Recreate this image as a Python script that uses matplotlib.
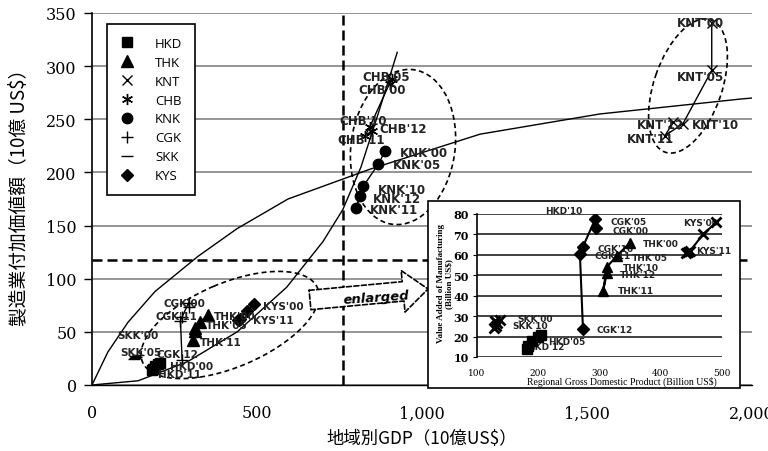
import matplotlib.pyplot as plt
from matplotlib.patches import Ellipse, Rectangle, FancyArrowPatch, ArrowStyle
from matplotlib.transforms import Affine2D
from matplotlib.ticker import FuncFormatter

plt.rcParams['font.family'] = ['DejaVu Sans']

# data: regional GDP vs manufacturing value added (billion US$)
years = ["'00", "'05", "'10", "'11", "'12"]
regions = ['HKD', 'THK', 'KNT', 'CHB', 'KNK', 'CGK', 'SKK', 'KYS']

hkd_gdp = [205, 200, 190, 181, 184]
hkd_mfg = [21, 20, 18, 14, 15.5]
thk_gdp = [350, 328, 312, 306, 312]
thk_mfg = [66, 59.5, 54, 42.5, 51]
knt_gdp = [1878, 1878, 1791, 1736, 1761]
knt_mfg = [341, 296, 246, 234.5, 247]
chb_gdp = [903, 908, 842, 827, 847]
chb_mfg = [283, 288, 243, 234, 239]
knk_gdp = [888, 868, 822, 800, 812]
knk_mfg = [220, 208, 187, 167, 178]
cgk_gdp = [295, 293, 273, 268, 273]
cgk_mfg = [73, 77.5, 64, 60.5, 23.7]
skk_gdp = [138, 130, 128, 131, 133]
skk_mfg = [28, 27.5, 24, 25, 26.5]
kys_gdp = [491, 469, 448, 442, 445]
kys_mfg = [76, 70, 62, 61, 61.5]

# trend curves
upper_gdp = [0, 48, 109, 191, 321, 439, 594, 842, 1176, 1539, 1964, 2000]
upper_mfg = [0, 31, 59, 88, 121, 147, 175, 203, 236, 255, 269, 270]
lower_gdp = [0, 140, 290, 440, 590, 700, 760, 815, 870, 925]
lower_mfg = [0, 4, 22, 50, 92, 135, 165, 205, 258, 313]

gdp_threshold = 760
mfg_threshold = 118

series = {
    'HKD': (hkd_gdp, hkd_mfg), 'THK': (thk_gdp, thk_mfg),
    'KNT': (knt_gdp, knt_mfg), 'CHB': (chb_gdp, chb_mfg),
    'KNK': (knk_gdp, knk_mfg), 'CGK': (cgk_gdp, cgk_mfg),
    'SKK': (skk_gdp, skk_mfg), 'KYS': (kys_gdp, kys_mfg),
}

main_marker = {'HKD': ('s', 7), 'THK': ('^', 8), 'KNT': ('x', 7),
               'CHB': ((6, 2, 0), 8), 'KNK': ('o', 7.5), 'CGK': ('+', 8),
               'SKK': ('_', 8), 'KYS': ('D', 6)}
inset_marker = {'HKD': ('s', 7), 'THK': ('^', 7.5), 'CGK': ('D', 6),
                'SKK': ('x', 7), 'KYS': ('x', 7)}

# label offsets in pixels (region, year index) -> (dx, dy)
main_labels = {
    ('KNT', 0): (-35, 0), ('KNT', 1): (-35, -6), ('KNT', 2): (9, -1),
    ('KNT', 4): (-36, -2), ('KNT', 3): (-38, -3),
    ('CHB', 1): (-29, 2), ('CHB', 0): (-32, -5), ('CHB', 2): (-30, 6),
    ('CHB', 4): (8, 2), ('CHB', 3): (-28, -3),
    ('KNK', 0): (15, -1), ('KNK', 1): (14, -1), ('KNK', 2): (15, -3),
    ('KNK', 4): (13, -3), ('KNK', 3): (14, -2),
    ('CGK', 0): (-26, 4), ('CGK', 3): (-25, 5), ('CGK', 4): (-26, 6),
    ('THK', 0): (6, -1), ('THK', 1): (6, -3), ('THK', 3): (7, -2),
    ('KYS', 0): (9, -2), ('KYS', 3): (15, 0),
    ('SKK', 0): (-20, 20), ('SKK', 1): (-15, 4),
    ('HKD', 0): (10, -3), ('HKD', 3): (6, -4),
}
small_regions = ['CGK', 'THK', 'KYS', 'SKK', 'HKD']
inset_labels = {
    ('HKD', 2): (13, 130),
    ('CGK', 1): (15, -2), ('CGK', 0): (16, -2), ('CGK', 2): (15, -2),
    ('CGK', 3): (15, -2), ('CGK', 4): (14, 0),
    ('THK', 0): (13, -1), ('THK', 1): (15, -2), ('THK', 2): (16, 0),
    ('THK', 4): (13, -1), ('THK', 3): (15, 0),
    ('KYS', 0): (-33, 0), ('KYS', 3): (10, 2),
    ('SKK', 0): (17, 2), ('SKK', 2): (18, 3),
    ('HKD', 1): (10, -5), ('HKD', 4): (-1, -1),
}

fig = plt.figure(figsize=(7.68, 4.52), dpi=100)
img = Affine2D().scale(1 / 768, -1 / 452).translate(0, 1) + fig.transFigure

ax = fig.add_axes([92 / 768, 66 / 452, 660 / 768, 372 / 452])
ax.set_xlim(0, 2000)
ax.set_ylim(0, 350)
ax.set_yticks(range(0, 351, 50))
ax.set_xticks(range(0, 2001, 500))
ax.xaxis.set_major_formatter(FuncFormatter(lambda v, p: f'{v:,.0f}'))
ax.grid(axis='y', color='#8c8c8c', lw=1.3, zorder=0)
ax.set_axisbelow(True)
for s in ['top', 'right']:
    ax.spines[s].set_visible(False)
ax.spines['left'].set_linewidth(1.2)
ax.spines['bottom'].set_linewidth(1.0)
ax.tick_params(axis='y', length=6, width=1, pad=5)
ax.tick_params(axis='x', length=0, pad=14)
for t in ax.get_xticklabels() + ax.get_yticklabels():
    t.set_family('DejaVu Serif')
    t.set_fontsize(11.5)

ax.plot(upper_gdp, upper_mfg, color='k', lw=1.0, zorder=2)
ax.plot(lower_gdp, lower_mfg, color='k', lw=1.0, zorder=2)
ax.axvline(gdp_threshold, color='k', lw=1.8, dashes=(4, 2), zorder=2)
ax.axhline(mfg_threshold, color='k', lw=1.8, dashes=(4, 2), zorder=2)

for name in regions:
    gx, gy = series[name]
    m, ms = main_marker[name]
    ax.plot(gx, gy, color='k', lw=1.0, zorder=3)
    ax.plot(gx, gy, ls='none', marker=m, ms=ms, color='k', mew=1.0,
            label=name, zorder=4)

for (name, i), (dx, dy) in main_labels.items():
    gx, gy = series[name]
    fs = 7.5 if name in small_regions else 8.5
    ax.annotate(name + years[i], (gx[i], gy[i]), xytext=(dx, dy),
                textcoords='offset pixels', ha='left', va='center',
                fontsize=fs, fontweight='bold', color='#222222', zorder=5)

ellipses = [((230, 326), 190, 84, -23), ((403, 148), 156, 104, -82),
            ((688, 87), 140, 68, -71)]
for c, w, h, a in ellipses:
    ax.add_patch(Ellipse(c, w, h, angle=a, transform=img, fill=False,
                         ec='k', lw=1.2, ls=(0, (3, 2)), zorder=3,
                         clip_on=False))

leg = ax.legend(loc='upper left', bbox_to_anchor=(0.0227, 0.97),
                borderaxespad=0, fancybox=False, edgecolor='k',
                framealpha=1, prop={'family': 'Open Sans', 'size': 9.5},
                labelspacing=0.45, handlelength=1.2, handletextpad=1.5,
                borderpad=0.95)
leg.get_frame().set_linewidth(1.2)

ax.set_xlabel('地域別GDP（10億US$）', family=['Noto Sans CJK JP', 'DejaVu Sans'],
              fontsize=12.5)
ax.xaxis.set_label_coords(0.5, -0.1425)
ax.xaxis.label.set_va('center')
ax.set_ylabel('製造業付加価値額（10億 US$）', family=['Noto Sans CJK JP', 'DejaVu Sans'],
              fontsize=13.5)
ax.yaxis.set_label_coords(-0.1106, 0.52)
ax.yaxis.label.set_va('center')

# "enlarged" arrow
arrow = FancyArrowPatch((310, 301), (428, 290), transform=img,
                        arrowstyle=ArrowStyle.Simple(head_length=0.9, head_width=1.5,
                                                     tail_width=0.7),
                        mutation_scale=20, shrinkA=0, shrinkB=0, fc='white',
                        ec='k', lw=1.2, ls=(0, (3, 1.5)), zorder=4)
fig.add_artist(arrow)
fig.text(376, 298, 'enlarged', transform=img, rotation=4, ha='center',
         va='center', fontsize=9.5, fontweight='bold', style='italic', zorder=4.5)

# inset
frame = Rectangle((428, 202), 312, 187, transform=img, fc='white', ec='k',
                  lw=1.2, zorder=4)
fig.add_artist(frame)
ins = fig.add_axes([477 / 768, 94 / 452, 245 / 768, 143 / 452])
ins.set_zorder(5)
ins.set_xlim(100, 500)
ins.set_ylim(10, 80)
ins.set_xticks(range(100, 501, 100))
ins.set_yticks(range(10, 81, 10))
ins.grid(axis='y', color='#222222', lw=1.2)
ins.set_axisbelow(True)
for s in ['top', 'right', 'bottom']:
    ins.spines[s].set_visible(False)
ins.spines['left'].set_linewidth(1.2)
ins.tick_params(axis='y', length=3, pad=3)
ins.tick_params(axis='x', length=0, pad=8)
for t in ins.get_yticklabels():
    t.set_family('DejaVu Serif')
    t.set_fontsize(8)
    t.set_fontweight('bold')
for t in ins.get_xticklabels():
    t.set_family('DejaVu Serif')
    t.set_fontsize(6.5)

for name in small_regions:
    gx, gy = series[name]
    m, ms = inset_marker[name]
    ins.plot(gx, gy, color='k', lw=1.5, zorder=3)
    ins.plot(gx, gy, ls='none', marker=m, ms=ms, color='k', mew=2 if m == 'x' else 1,
             zorder=4)

for (name, i), (dx, dy) in inset_labels.items():
    gx, gy = series[name]
    ins.annotate(name + years[i], (gx[i], gy[i]), xytext=(dx, dy),
                 textcoords='offset pixels', ha='left', va='center',
                 fontsize=6.5, fontweight='bold', color='#222222', zorder=2,
                 annotation_clip=False)

ins.set_xlabel('Regional Gross Domestic Product (Billion US$)',
               family='Liberation Serif', fontsize=7)
ins.xaxis.set_label_coords(0.592, -0.168)
ins.xaxis.label.set_va('center')
ins.set_ylabel('Value Added of Manufacturing\n(Billion US$)',
               family='Liberation Serif', fontsize=6.5, fontweight='bold',
               linespacing=1.0)
ins.yaxis.set_label_coords(-0.13, 0.52)
ins.yaxis.label.set_va('center')

fig.savefig('out.png', dpi=100)
